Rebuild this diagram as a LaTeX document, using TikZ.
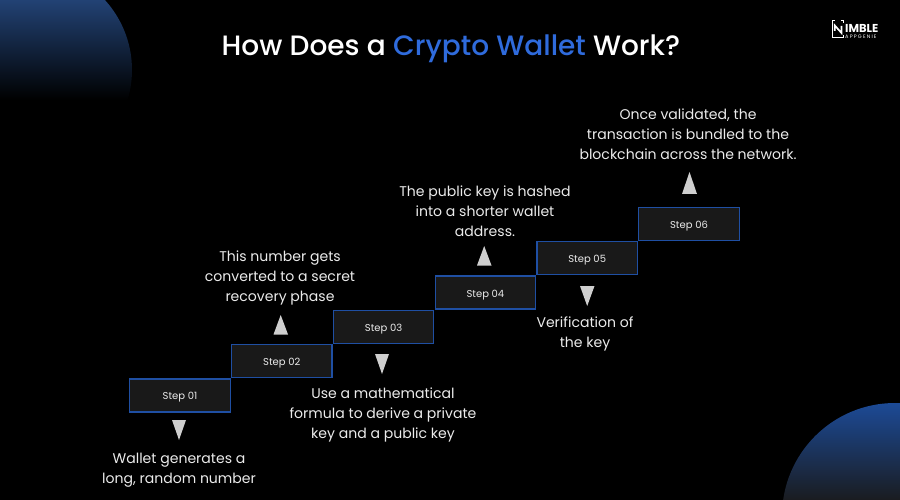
\documentclass[tikz,border=0pt]{standalone}
\usepackage{fontspec}
\setmainfont{Poppins}
\newfontfamily\titlefont{Poppins Medium}
\definecolor{boxfill}{HTML}{191919}
\definecolor{boxline}{HTML}{1F4FA3}
\definecolor{titleblue}{HTML}{2F6BDC}
\definecolor{tri}{HTML}{CFCFCF}
\newcommand\steplabel[1]{\rule{0pt}{11.5pt}#1}
\tikzset{
  stepbox/.style={draw=boxline,fill=boxfill,line width=1.25pt,minimum width=100.5pt,minimum height=33pt,inner sep=0pt,text=white!92!black,font=\fontsize{10}{12}\selectfont},
  caption/.style={align=center,text=white!92!black,font=\fontsize{14.05}{20}\selectfont,inner sep=0pt},
  marker/.style={fill=tri,draw=none}
}
\begin{document}
\begin{tikzpicture}[x=1pt,y=-1pt]
\useasboundingbox (0,0) rectangle (900,500);
\fill[black] (0,0) rectangle (900,500);
% corner discs
\begin{scope}
\clip (28,70) circle[radius=104];
\shade[top color={rgb,255:red,34;green,66;blue,116},middle color={rgb,255:red,22;green,28;blue,36},bottom color=black] (-80,0) rectangle (140,100);
\end{scope}
\begin{scope}
\clip (895,516) circle[radius=113];
\shade[top color={rgb,255:red,28;green,74;blue,150},middle color={rgb,255:red,30;green,54;blue,94},bottom color={rgb,255:red,26;green,28;blue,32}] (770,403) rectangle (900,500);
\end{scope}
% title
\node[inner sep=0pt,text=white,font=\titlefont\fontsize{28}{32}\selectfont] (title) at (451,49) {How Does a \textcolor{titleblue}{Crypto Wallet} Work?};
% logo
\draw[white,line width=1pt] (835,20.5) -- (832.5,20.5) -- (832.5,38) -- (843.5,38) -- (843.5,35);
\draw[white,line width=1pt] (841,20.5) -- (843.5,20.5) -- (843.5,23);
\draw[white,line width=1.7pt] (834.8,31) -- (834.8,25.5) -- (841.5,33) -- (841.5,26);
\node[inner sep=0pt,anchor=west,text=white,font=\fontsize{11.5}{12}\bfseries\selectfont] (logoa) at (845,28) {IMBLE};
\node[inner sep=0pt,anchor=west,text=white,font=\fontsize{5}{6}\selectfont\addfontfeature{LetterSpace=24}] (logob) at (845,37) {APPGENIE};
% steps
\node[stepbox] (s1) at (180,395.5) {\steplabel{Step 01}};
\node[stepbox] (s2) at (281.8,361.2) {\steplabel{Step 02}};
\node[stepbox] (s3) at (383.6,326.9) {\steplabel{Step 03}};
\node[stepbox] (s4) at (485.4,292.6) {\steplabel{Step 04}};
\node[stepbox] (s5) at (587.2,258.3) {\steplabel{Step 05}};
\node[stepbox] (s6) at (689,224) {\steplabel{Step 06}};
% markers
\fill[marker] (172,420) -- (186,420) -- (179,440) -- cycle;
\fill[marker] (273.5,334.5) -- (288,334.5) -- (280.7,315) -- cycle;
\fill[marker] (375,354) -- (389,354) -- (382,374) -- cycle;
\fill[marker] (477,265.5) -- (491.5,265.5) -- (484.2,246) -- cycle;
\fill[marker] (580,286) -- (594.5,286) -- (587.2,306) -- cycle;
\fill[marker] (682,194) -- (697,194) -- (689.5,172) -- cycle;
% captions
\node[caption] (c1) at (179,470) {Wallet generates a\\long, random number};
\node[caption] (c2) at (280,278) {This number gets\\converted to a secret\\recovery phase};
\node[caption] (c3) at (383,415) {Use a mathematical\\formula to derive a private\\key and a public key};
\node[caption] (c4) at (485,211) {The public key is hashed\\into a shorter wallet\\address.};
\node[caption] (c5) at (585,334) {Verification of\\the key};
\node[caption] (c6) at (688,134) {Once validated, the\\transaction is bundled to the\\blockchain across the network.};
\end{tikzpicture}
\end{document}
